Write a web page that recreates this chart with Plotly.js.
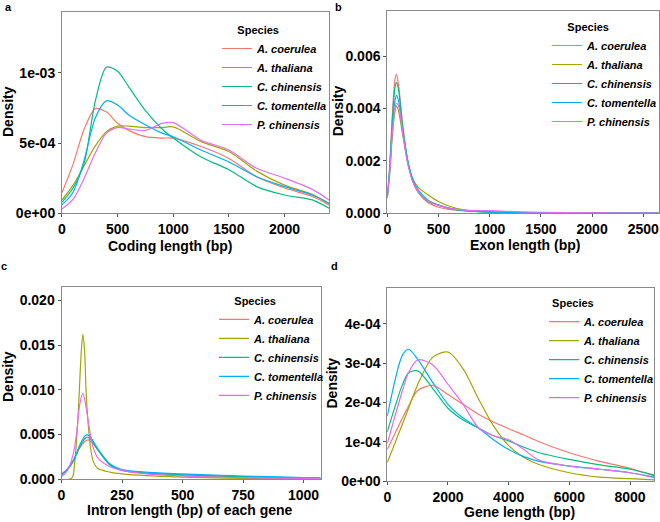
<!DOCTYPE html>
<html>
<head>
<meta charset="utf-8">
<script src="https://cdn.plot.ly/plotly-3.0.1.min.js"></script>
<style>
  html, body { margin: 0; padding: 0; background: #ffffff; }
  #chart { width: 660px; height: 522px; }
</style>
</head>
<body>
<div id="chart"></div>
<script>
// Species shown in every panel, with ggplot-style hue colours
const species = ["A. coerulea", "A. thaliana", "C. chinensis", "C. tomentella", "P. chinensis"];
const speciesColors = ["#F8766D", "#A3A500", "#00BF7D", "#00B0F6", "#E76BF3"];

// (a) Coding length density
const codingX = [0, 100, 200, 300, 400, 500, 600, 750, 900, 1000, 1250, 1500, 1750, 2000, 2250, 2400];
const codingAco = [1.47e-4, 3.5e-4, 6.0e-4, 7.45e-4, 7.2e-4, 6.4e-4, 5.9e-4, 5.45e-4, 5.35e-4, 5.35e-4, 4.75e-4, 3.9e-4, 2.6e-4, 1.8e-4, 1.2e-4, 0.6e-4];
const codingAth = [0.95e-4, 2.0e-4, 3.4e-4, 4.8e-4, 5.8e-4, 6.2e-4, 6.2e-4, 6.1e-4, 6.1e-4, 6.15e-4, 5.1e-4, 4.4e-4, 3.0e-4, 2.0e-4, 1.35e-4, 0.7e-4];
const codingCch = [0.8e-4, 1.8e-4, 3.6e-4, 8.0e-4, 10.4e-4, 10.1e-4, 9.0e-4, 7.3e-4, 6.0e-4, 5.35e-4, 4.0e-4, 3.1e-4, 1.9e-4, 1.3e-4, 0.95e-4, 0.36e-4];
const codingCto = [0.6e-4, 1.5e-4, 3.8e-4, 6.8e-4, 8.0e-4, 7.7e-4, 7.0e-4, 6.3e-4, 5.7e-4, 5.45e-4, 4.5e-4, 3.65e-4, 2.6e-4, 1.9e-4, 1.3e-4, 0.7e-4];
const codingPch = [0.3e-4, 1.0e-4, 2.5e-4, 4.3e-4, 5.7e-4, 6.1e-4, 6.0e-4, 5.9e-4, 6.4e-4, 6.45e-4, 5.2e-4, 4.5e-4, 3.2e-4, 2.5e-4, 1.7e-4, 0.95e-4];

// (b) Exon length density
const exonX = [0, 25, 50, 75, 90, 110, 150, 200, 250, 300, 400, 500, 600, 750, 1000, 1250, 1500, 2000, 2650];
const exonAco = [0.0006, 0.0019, 0.0038, 0.0051, 0.0053, 0.0049, 0.0034, 0.0020, 0.0012, 0.0008, 0.0004, 0.00023, 0.00015, 0.0001, 0.00005, 0.00003, 0.00002, 0.00001, 0.000003];
const exonAth = [0.0006, 0.0016, 0.0030, 0.0039, 0.0041, 0.0039, 0.0030, 0.0019, 0.0013, 0.0010, 0.0007, 0.00045, 0.00028, 0.00013, 0.00005, 0.00003, 0.00002, 0.00001, 0.000003];
const exonCch = [0.0006, 0.0018, 0.0036, 0.0048, 0.0050, 0.0047, 0.0033, 0.0020, 0.0012, 0.00085, 0.00045, 0.0003, 0.0002, 0.0001, 0.00004, 0.00003, 0.00002, 0.00001, 0.000003];
const exonCto = [0.0006, 0.0017, 0.0033, 0.0043, 0.0045, 0.0043, 0.0032, 0.0020, 0.0013, 0.0009, 0.0005, 0.00032, 0.0002, 0.0001, 0.00005, 0.00003, 0.00002, 0.00001, 0.000003];
const exonPch = [0.0006, 0.0016, 0.0031, 0.0040, 0.0042, 0.0041, 0.0031, 0.0019, 0.0012, 0.00085, 0.00048, 0.0003, 0.0002, 0.00012, 0.0001, 0.00006, 0.00004, 0.00002, 0.000005];

// (c) Intron length density (per-species sampling, peaks differ in sharpness)
const intronAcoX = [0, 25, 50, 75, 95, 110, 130, 150, 200, 250, 350, 500, 750, 1000, 1070];
const intronAco = [0.0006, 0.0012, 0.0022, 0.0035, 0.0042, 0.0044, 0.0040, 0.0033, 0.0017, 0.0010, 0.0007, 0.0004, 0.0002, 0.0001, 0.00008];
const intronAthX = [0, 30, 45, 55, 65, 73, 80, 88, 95, 102, 110, 120, 131, 150, 200, 250, 350, 500, 750, 1000, 1070];
const intronAth = [0, 0, 0.0002, 0.002, 0.0055, 0.0095, 0.0135, 0.0162, 0.0145, 0.0095, 0.0062, 0.0035, 0.002, 0.0012, 0.0008, 0.0006, 0.0004, 0.00025, 0.0001, 0.00005, 0.00004];
const intronCchX = [0, 25, 50, 75, 95, 108, 125, 150, 200, 250, 350, 500, 750, 1000, 1070];
const intronCch = [0.0005, 0.0011, 0.0021, 0.0036, 0.0045, 0.0047, 0.0043, 0.0033, 0.0016, 0.0010, 0.0007, 0.0005, 0.0003, 0.00015, 0.0001];
const intronCtoX = [0, 25, 50, 75, 95, 105, 120, 150, 200, 250, 350, 500, 750, 1000, 1070];
const intronCto = [0.0005, 0.0011, 0.0021, 0.0038, 0.0048, 0.0050, 0.0047, 0.0034, 0.0017, 0.0011, 0.0008, 0.0006, 0.00037, 0.0002, 0.00015];
const intronPchX = [0, 25, 50, 65, 75, 88, 100, 115, 130, 150, 200, 250, 350, 500, 750, 1000, 1070];
const intronPch = [0.0003, 0.0010, 0.0030, 0.0058, 0.0083, 0.0096, 0.0083, 0.0057, 0.0036, 0.0024, 0.0014, 0.0010, 0.0006, 0.00037, 0.00018, 0.0001, 0.00008];

// (d) Gene length density
const geneX = [0, 500, 700, 1000, 1500, 2000, 2500, 3000, 3500, 4000, 4500, 5000, 6000, 7000, 8000, 8800];
const geneAco = [0.8e-4, 1.6e-4, 1.9e-4, 2.3e-4, 2.43e-4, 2.2e-4, 1.95e-4, 1.7e-4, 1.5e-4, 1.33e-4, 1.17e-4, 1.0e-4, 0.72e-4, 0.5e-4, 0.32e-4, 0.13e-4];
const geneAth = [0.47e-4, 1.45e-4, 1.85e-4, 2.45e-4, 3.15e-4, 3.28e-4, 2.85e-4, 2.1e-4, 1.4e-4, 0.9e-4, 0.6e-4, 0.42e-4, 0.21e-4, 0.1e-4, 0.06e-4, 0.03e-4];
const geneCch = [1.25e-4, 2.45e-4, 2.75e-4, 2.8e-4, 2.35e-4, 1.85e-4, 1.55e-4, 1.35e-4, 1.15e-4, 1.02e-4, 0.86e-4, 0.72e-4, 0.55e-4, 0.41e-4, 0.3e-4, 0.15e-4];
const geneCto = [1.65e-4, 3.2e-4, 3.35e-4, 3.1e-4, 2.5e-4, 1.95e-4, 1.6e-4, 1.35e-4, 1.05e-4, 0.8e-4, 0.62e-4, 0.5e-4, 0.38e-4, 0.3e-4, 0.21e-4, 0.1e-4];
const genePch = [0.95e-4, 2.3e-4, 2.75e-4, 3.08e-4, 2.95e-4, 2.46e-4, 1.95e-4, 1.36e-4, 1.15e-4, 1.05e-4, 0.8e-4, 0.53e-4, 0.38e-4, 0.3e-4, 0.21e-4, 0.08e-4];

// Tick labels
const codingYTicks = [0, 5e-4, 1e-3];
const codingYLabels = ["0e+00", "5e-04", "1e-03"];
const geneYTicks = [0, 1e-4, 2e-4, 3e-4, 4e-4];
const geneYLabels = ["0e+00", "1e-04", "2e-04", "3e-04", "4e-04"];

const panels = [
  { xs: [codingX, codingX, codingX, codingX, codingX], ys: [codingAco, codingAth, codingCch, codingCto, codingPch], xa: "x", ya: "y", legend: "legend" },
  { xs: [exonX, exonX, exonX, exonX, exonX], ys: [exonAco, exonAth, exonCch, exonCto, exonPch], xa: "x2", ya: "y2", legend: "legend2" },
  { xs: [intronAcoX, intronAthX, intronCchX, intronCtoX, intronPchX], ys: [intronAco, intronAth, intronCch, intronCto, intronPch], xa: "x3", ya: "y3", legend: "legend3" },
  { xs: [geneX, geneX, geneX, geneX, geneX], ys: [geneAco, geneAth, geneCch, geneCto, genePch], xa: "x4", ya: "y4", legend: "legend4" }
];

const traces = [];
panels.forEach(p => {
  species.forEach((name, i) => {
    traces.push({
      type: "scatter", mode: "lines", name: name,
      x: p.xs[i], y: p.ys[i], xaxis: p.xa, yaxis: p.ya, legend: p.legend,
      line: { color: speciesColors[i], width: 1.2, shape: "spline", smoothing: 0.8 },
      hoverinfo: "x+y+name"
    });
  });
});

const FONT = "Liberation Sans, Arial, Helvetica, sans-serif";
const tickFont = { family: FONT, size: 14, color: "#000", weight: "bold" };

function axis(domain, range, anchor, extra) {
  return Object.assign({
    domain: domain, range: range, anchor: anchor,
    showline: true, mirror: true, linecolor: "#8a8a8a", linewidth: 1,
    ticks: "outside", ticklen: 3, tickcolor: "#555", tickwidth: 1,
    showgrid: false, zeroline: false, tickfont: tickFont, automargin: false
  }, extra);
}

// Legend: title padded so it sits just left of the line samples
function legendBox(x, y, pad) {
  return {
    x: x, y: y, xanchor: "left", yanchor: "top", bgcolor: "rgba(0,0,0,0)",
    title: { text: "\u00a0".repeat(pad) + "Species", font: { family: FONT, size: 11, color: "#000", weight: "bold", style: "normal" } },
    font: { family: FONT, size: 11, color: "#000", weight: "bold", style: "italic" },
    itemwidth: 30, tracegroupgap: 0
  };
}

// Text placed by pixel centre (panel letters and axis titles)
function label(text, x, y, size, angle) {
  return {
    text: text, x: x / 660, y: 1 - y / 522, xref: "paper", yref: "paper",
    xanchor: "center", yanchor: "middle", showarrow: false, textangle: angle || 0,
    font: { family: FONT, size: size, color: "#000", weight: "bold" }
  };
}

const layout = {
  width: 660, height: 522,
  margin: { l: 0, r: 0, t: 0, b: 0, autoexpand: false },
  paper_bgcolor: "#fff", plot_bgcolor: "#fff",
  font: { family: FONT },
  xaxis: axis([0.0939, 0.4985], [0, 2400], "y", { tickvals: [0, 500, 1000, 1500, 2000] }),
  yaxis: axis([0.5914, 0.977], [0, 1.432e-3], "x", { tickvals: codingYTicks, ticktext: codingYLabels }),
  xaxis2: axis([0.5868, 0.9985], [0, 2653], "y2", { tickvals: [0, 500, 1000, 1500, 2000, 2500] }),
  yaxis2: axis([0.5914, 0.9789], [0, 0.00772], "x2", { tickvals: [0, 0.002, 0.004, 0.006], tickformat: ".3f" }),
  xaxis3: axis([0.0932, 0.4864], [0, 1072], "y3", { tickvals: [0, 250, 500, 750, 1000] }),
  yaxis3: axis([0.0818, 0.4496], [0, 0.02145], "x3", { tickvals: [0, 0.005, 0.010, 0.015, 0.020], tickformat: ".3f" }),
  xaxis4: axis([0.5868, 0.9914], [0, 8800], "y4", { tickvals: [0, 2000, 4000, 6000, 8000] }),
  yaxis4: axis([0.0785, 0.4489], [0, 4.915e-4], "x4", { tickvals: geneYTicks, ticktext: geneYLabels }),
  legend: legendBox(0.3288, 0.9623, 6),
  legend2: legendBox(0.8288, 0.968, 6),
  legend3: legendBox(0.3242, 0.4435, 6),
  legend4: legendBox(0.8242, 0.439, 2),
  annotations: [
    label("a", 8.3, 6.7, 11), label("b", 338.3, 6.7, 11), label("c", 4, 265.5, 11), label("d", 334, 266, 11),
    // axis titles
    label("Coding length (bp)", 170, 245.5, 14),
    label("Exon length (bp)", 525, 245, 14),
    label("Intron length (bp) of each gene", 190, 510, 14),
    label("Gene length (bp)", 519, 512, 14),
    label("Density", 8, 112, 14, -90), label("Density", 338.3, 111, 14, -90),
    label("Density", 8, 377, 14, -90), label("Density", 331.5, 383, 14, -90)
  ]
};

Plotly.newPlot("chart", traces, layout, { displayModeBar: false, staticPlot: true });
</script>
</body>
</html>
